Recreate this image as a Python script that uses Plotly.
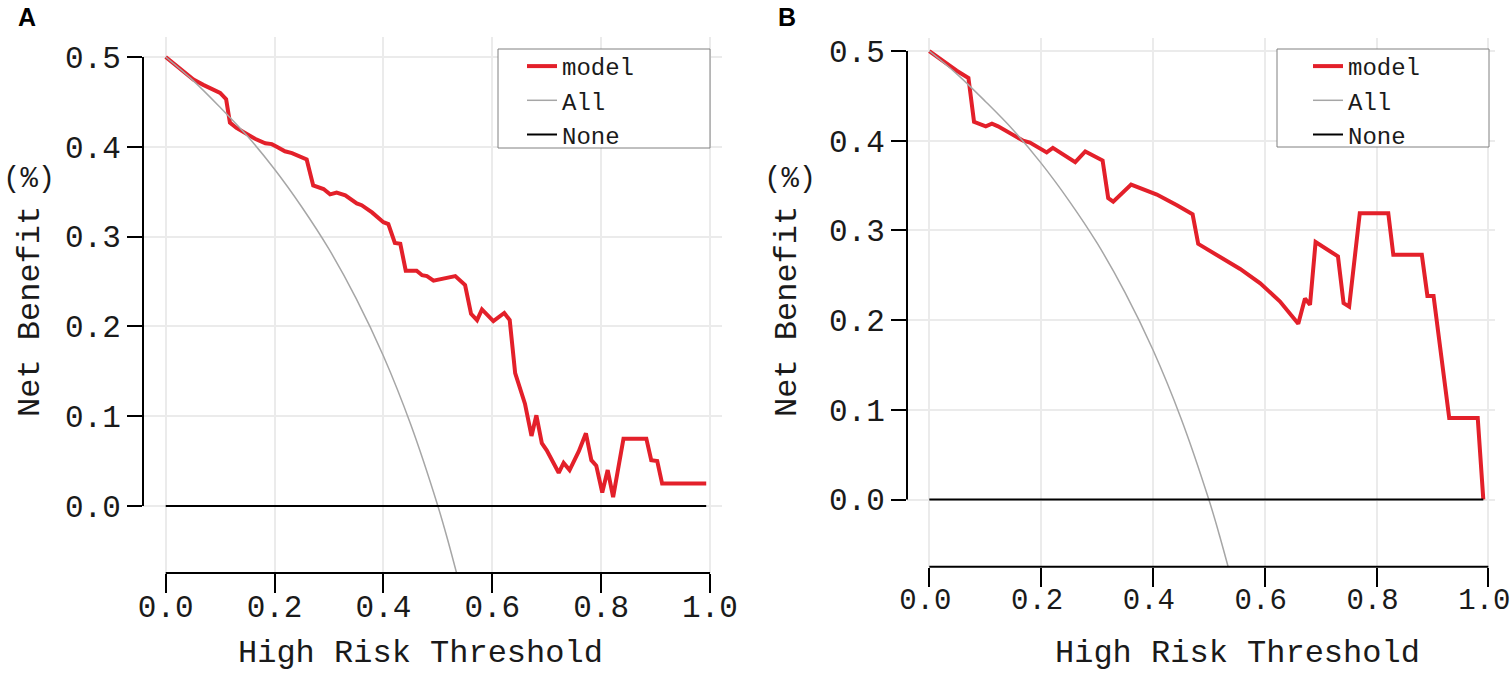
import plotly.graph_objects as go

# ---------------- data ----------------
# Panel A - model
a_thr = [0, 0.051, 0.069, 0.088, 0.100, 0.111, 0.118, 0.130, 0.149, 0.164,
         0.183, 0.195, 0.204, 0.219, 0.232, 0.259, 0.271, 0.290, 0.302, 0.314,
         0.330, 0.351, 0.360, 0.379, 0.400, 0.409, 0.421, 0.431, 0.441, 0.461,
         0.471, 0.480, 0.492, 0.532, 0.550, 0.561, 0.572, 0.581, 0.602, 0.622,
         0.632, 0.642, 0.660, 0.672, 0.681, 0.691, 0.700, 0.713, 0.722, 0.731,
         0.742, 0.759, 0.772, 0.782, 0.791, 0.802, 0.812, 0.822, 0.841, 0.883,
         0.892, 0.903, 0.912, 0.993]
a_model = [0.500, 0.475, 0.469, 0.463, 0.460, 0.453, 0.427, 0.421, 0.414, 0.409,
           0.404, 0.403, 0.400, 0.395, 0.393, 0.386, 0.357, 0.353, 0.347, 0.349,
           0.346, 0.337, 0.335, 0.327, 0.316, 0.314, 0.293, 0.292, 0.262, 0.262,
           0.257, 0.256, 0.251, 0.256, 0.246, 0.214, 0.207, 0.219, 0.206, 0.215,
           0.207, 0.148, 0.114, 0.078, 0.101, 0.070, 0.062, 0.046, 0.037, 0.048,
           0.040, 0.061, 0.081, 0.051, 0.045, 0.015, 0.040, 0.010, 0.075, 0.075,
           0.051, 0.050, 0.025, 0.025]

# Panel B - model
b_thr = [0, 0.049, 0.070, 0.080, 0.101, 0.112, 0.123, 0.168, 0.180, 0.210,
         0.221, 0.261, 0.279, 0.310, 0.320, 0.329, 0.361, 0.407, 0.443, 0.471,
         0.481, 0.502, 0.514, 0.556, 0.592, 0.627, 0.660, 0.672, 0.681, 0.691,
         0.731, 0.741, 0.751, 0.770, 0.821, 0.830, 0.881, 0.891, 0.902, 0.930,
         0.981, 0.991]
b_model = [0.500, 0.478, 0.470, 0.421, 0.416, 0.419, 0.416, 0.400, 0.398, 0.387,
           0.392, 0.376, 0.388, 0.378, 0.336, 0.332, 0.351, 0.340, 0.328, 0.318,
           0.285, 0.277, 0.273, 0.257, 0.241, 0.221, 0.196, 0.224, 0.217, 0.287,
           0.271, 0.219, 0.215, 0.319, 0.319, 0.273, 0.273, 0.227, 0.227, 0.091,
           0.091, 0.000]

# "All" reference curve (same in both panels)
all_thr = [0, 0.05, 0.10, 0.15, 0.20, 0.25, 0.30, 0.35, 0.40, 0.45, 0.50, 0.52, 0.55]
all_nb = [0.500, 0.474, 0.444, 0.412, 0.375, 0.333, 0.286, 0.231, 0.167, 0.091, 0.000, -0.042, -0.111]

# "None" reference line
a_none_thr = [0, 0.993]
b_none_thr = [0, 0.991]
none_nb = [0, 0]

x_ticks = [0, 0.2, 0.4, 0.6, 0.8, 1.0]
y_ticks = [0, 0.1, 0.2, 0.3, 0.4, 0.5]

series_names = ["model", "All", "None"]
x_title = "High Risk Threshold"
y_title = "Net Benefit"
y_unit = "(%)"
panel_labels = ["A", "B"]

# ---------------- styling ----------------
W, H = 1512, 673
FONT = "Liberation Mono, Noto Sans CJK SC, monospace"
RED = "#e3202a"
GRAY = "#a6a6a6"
GRID = "#ebebeb"
TXT = "#1a1a1a"


def px_x(p):
    return p / W


def px_y(p):
    return 1 - p / H


fig = go.Figure()

panels = [
    dict(thr=a_thr, model=a_model, none_thr=a_none_thr, xa="x", ya="y", legend="legend"),
    dict(thr=b_thr, model=b_model, none_thr=b_none_thr, xa="x2", ya="y2", legend="legend2"),
]

for p in panels:
    fig.add_trace(go.Scatter(x=p["thr"], y=p["model"], mode="lines", name=series_names[0],
                             line=dict(color=RED, width=4), xaxis=p["xa"], yaxis=p["ya"],
                             legend=p["legend"]))
    fig.add_trace(go.Scatter(x=all_thr, y=all_nb, mode="lines", name=series_names[1],
                             line=dict(color=GRAY, width=1.5, shape="spline"),
                             xaxis=p["xa"], yaxis=p["ya"], legend=p["legend"]))
    fig.add_trace(go.Scatter(x=p["none_thr"], y=none_nb, mode="lines", name=series_names[2],
                             line=dict(color="black", width=2), xaxis=p["xa"], yaxis=p["ya"],
                             legend=p["legend"]))

tickfont = dict(family=FONT, size=31, color=TXT)
common_x = dict(tickvals=x_ticks, tickformat=".1f", showgrid=True, gridcolor=GRID, gridwidth=1.5,
                zeroline=False, showline=False, ticks="outside", ticklen=19, tickwidth=2,
                tickcolor="black", automargin=False, fixedrange=True,
                ticklabelstandoff=-13, ticklabeloverflow="allow")
common_y = dict(tickvals=y_ticks, tickformat=".1f", showgrid=True, gridcolor=GRID, gridwidth=1.5,
                zeroline=False, showline=False, ticks="outside", ticklen=15, tickwidth=2,
                tickcolor="black", tickfont=tickfont, automargin=False, fixedrange=True,
                ticklabeloverflow="allow")

legend_font = dict(family=FONT, size=24, color=TXT)
fig.update_layout(
    width=W, height=H,
    margin=dict(l=0, r=0, t=0, b=0),
    paper_bgcolor="white", plot_bgcolor="white",
    xaxis=dict(domain=[px_x(143), px_x(722)], range=[-0.0417, 1.022], anchor="y",
               tickfont=tickfont, **common_x),
    yaxis=dict(domain=[px_y(573), px_y(37)], range=[-0.0746, 0.5223], anchor="x", **common_y),
    xaxis2=dict(domain=[px_x(907), px_x(1495)], range=[-0.0399, 1.0119], anchor="y2",
                tickfont=dict(family=FONT, size=29, color=TXT), ticklabelshift=-4, **common_x),
    yaxis2=dict(domain=[px_y(566.7), px_y(38)], range=[-0.0749, 0.5145], anchor="x2", **common_y),
    legend=dict(x=px_x(522), y=px_y(44), xanchor="left", yanchor="top",
                bgcolor="rgba(0,0,0,0)", borderwidth=0, font=legend_font),
    legend2=dict(x=px_x(1308), y=px_y(44), xanchor="left", yanchor="top",
                 bgcolor="rgba(0,0,0,0)", borderwidth=0, font=legend_font),
    showlegend=True,
)

shapes = []
# capped axis lines
for xa, ya in [("x", "y"), ("x2", "y2")]:
    shapes.append(dict(type="line", xref=f"{xa} domain", yref=ya, x0=0, x1=0, y0=0, y1=0.5,
                       line=dict(color="black", width=2)))
    shapes.append(dict(type="line", xref=xa, yref=f"{ya} domain", x0=0, x1=1.0, y0=0, y1=0,
                       line=dict(color="black", width=2)))
# legend boxes
for x0, x1, y0, y1 in [(498, 710, 49, 148), (1277, 1489, 49, 147)]:
    shapes.append(dict(type="rect", xref="paper", yref="paper", x0=px_x(x0), x1=px_x(x1),
                       y0=px_y(y1), y1=px_y(y0), line=dict(color="#808080", width=1),
                       fillcolor="white", layer="above"))
fig.update_layout(shapes=shapes)

ann = []
title_font = dict(family=FONT, size=32, color=TXT)
for lbl, lx, xt, yt, ux in [(panel_labels[0], 27, 420, 30, 29), (panel_labels[1], 787, 1237, 787, 790)]:
    ann.append(dict(text=f"<b>{lbl}</b>", xref="paper", yref="paper", x=px_x(lx), y=px_y(16.5),
                    showarrow=False, xanchor="center", yanchor="middle",
                    font=dict(family="Liberation Sans, Arial", size=25, color="black")))
    ann.append(dict(text=x_title, xref="paper", yref="paper", x=px_x(xt), y=px_y(653),
                    showarrow=False, xanchor="center", yanchor="middle", font=title_font))
    ann.append(dict(text=y_title, xref="paper", yref="paper", x=px_x(yt), y=px_y(312),
                    showarrow=False, xanchor="center", yanchor="middle", textangle=-90,
                    font=title_font))
    ann.append(dict(text=y_unit, xref="paper", yref="paper", x=px_x(ux), y=px_y(180),
                    showarrow=False, xanchor="center", yanchor="middle",
                    font=dict(family=FONT, size=29, color=TXT)))
fig.update_layout(annotations=ann)

fig.write_html("out.html", config={"displayModeBar": False},
               post_script="document.body.style.margin='0';document.body.style.overflow='hidden';")
